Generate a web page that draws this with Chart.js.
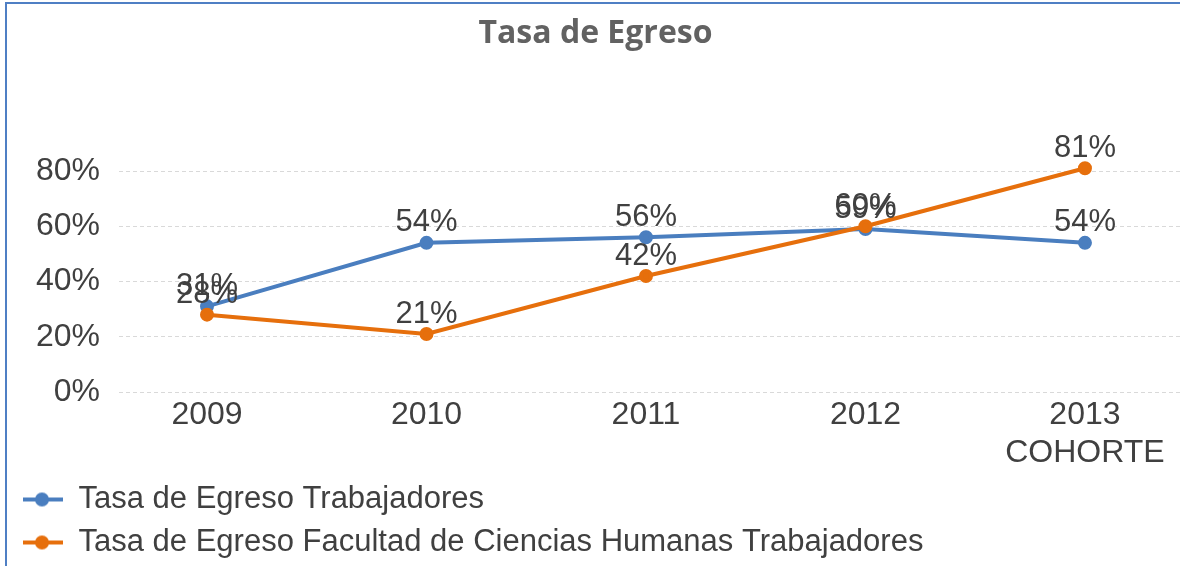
<!DOCTYPE html>
<html>
<head>
<meta charset="utf-8">
<title>Tasa de Egreso</title>
<script src="https://cdn.jsdelivr.net/npm/chart.js@4.4.1/dist/chart.umd.min.js"></script>
<style>
  html, body { margin: 0; padding: 0; background: #fff; overflow: hidden; }
  body { width: 1180px; height: 566px; position: relative; }
  #wrap { position: absolute; left: 0; top: 0; }
  #frame {
    position: absolute; left: 5px; top: 2px; right: -10px; bottom: -10px;
    border-top: 2px solid #4f7fc4; border-left: 2px solid #4f7fc4;
    pointer-events: none;
  }
</style>
</head>
<body>
<div id="wrap"><canvas id="egresoChart" width="1180" height="566"></canvas></div>
<div id="frame"></div>
<script>
const categories = ["2009", "2010", "2011", "2012", ["2013", "COHORTE"]];
const trabajadores = [0.31, 0.54, 0.56, 0.59, 0.54];
const facultadTrabajadores = [0.28, 0.21, 0.42, 0.60, 0.81];
const yTicks = [0, 0.2, 0.4, 0.6, 0.8];

const BLUE = "#4a7ebf";
const ORANGE = "#e66f0c";
const TEXT = "#404040";

Chart.defaults.font.family = '"Liberation Sans", Arial, sans-serif';
Chart.defaults.color = TEXT;

// legend marker: short line with a dot in the middle
function legendMarker(color) {
    const c = document.createElement("canvas");
    c.width = 40;
    c.height = 16;
    const g = c.getContext("2d");
    g.strokeStyle = color;
    g.lineWidth = 4;
    g.beginPath();
    g.moveTo(0, 8);
    g.lineTo(40, 8);
    g.stroke();
    g.fillStyle = color;
    g.beginPath();
    g.arc(19, 8, 7, 0, Math.PI * 2);
    g.fill();
    return c;
}

const toPoints = arr => arr.map((v, i) => ({ x: i, y: v }));
const pct = v => Math.round(v * 100) + "%";

// ---------- data labels above each point ----------
const valueLabels = {
    id: "valueLabels",
    afterDatasetsDraw(chart) {
        const ctx = chart.ctx;
        ctx.save();
        ctx.font = '31px "Liberation Sans", Arial, sans-serif';
        ctx.fillStyle = TEXT;
        ctx.textAlign = "center";
        ctx.textBaseline = "middle";
        chart.data.datasets.forEach((ds, di) => {
            const meta = chart.getDatasetMeta(di);
            meta.data.forEach((pt, i) => {
                ctx.fillText(pct(ds.data[i].y), pt.x, pt.y - 20);
            });
        });
        ctx.restore();
    }
};

const ctx = document.getElementById("egresoChart").getContext("2d");

new Chart(ctx, {
    type: "line",
    data: {
        datasets: [{
            label: "Tasa de Egreso Trabajadores",
            data: toPoints(trabajadores),
            borderColor: BLUE,
            backgroundColor: BLUE,
            borderWidth: 4,
            pointRadius: 5,
            pointHoverRadius: 5,
            order: 1
        }, {
            label: "Tasa de Egreso Facultad de Ciencias Humanas Trabajadores",
            data: toPoints(facultadTrabajadores),
            borderColor: ORANGE,
            backgroundColor: ORANGE,
            borderWidth: 4,
            pointRadius: 5,
            pointHoverRadius: 5,
            order: 0
        }]
    },
    options: {
        responsive: false,
        animation: false,
        layout: { autoPadding: false, padding: { left: 11, right: 0, top: 0, bottom: -2 } },
        scales: {
            x: {
                type: "linear",
                min: -0.401,
                max: 4.433,
                grid: { display: false },
                border: { display: false },
                afterBuildTicks: s => { s.ticks = categories.map((c, i) => ({ value: i })); },
                afterFit: s => { s.height = 80; },
                ticks: {
                    autoSkip: false,
                    maxRotation: 0,
                    padding: -4,
                    font: { size: 32, lineHeight: 1.2 },
                    callback: v => categories[v]
                }
            },
            y: {
                min: 0,
                max: 0.9,
                afterBuildTicks: s => { s.ticks = yTicks.map(v => ({ value: v })); },
                afterFit: s => { s.width = 108; },
                grid: { color: "#d9d9d9", drawTicks: false },
                border: { display: false, dash: [4, 3] },
                ticks: {
                    padding: 19,
                    font: { size: 32 },
                    callback: v => pct(v)
                }
            }
        },
        plugins: {
            title: {
                display: true,
                text: "Tasa de Egreso",
                color: "#626262",
                font: { family: '"Open Sans", sans-serif', size: 32, weight: "bold", lineHeight: 1.2 },
                padding: { top: 15, bottom: 90 }
            },
            legend: {
                position: "bottom",
                align: "start",
                labels: {
                    usePointStyle: true,
                    pointStyleWidth: 40,
                    padding: 12,
                    color: TEXT,
                    font: { size: 31 },
                    generateLabels(chart) {
                        return chart.data.datasets.map((ds, i) => ({
                            text: ds.label,
                            datasetIndex: i,
                            pointStyle: legendMarker(ds.borderColor),
                            fillStyle: ds.borderColor,
                            strokeStyle: ds.borderColor,
                            lineWidth: 0,
                            fontColor: TEXT,
                            hidden: false
                        }));
                    }
                }
            },
            tooltip: { enabled: false }
        }
    },
    plugins: [valueLabels]
});
</script>
</body>
</html>
